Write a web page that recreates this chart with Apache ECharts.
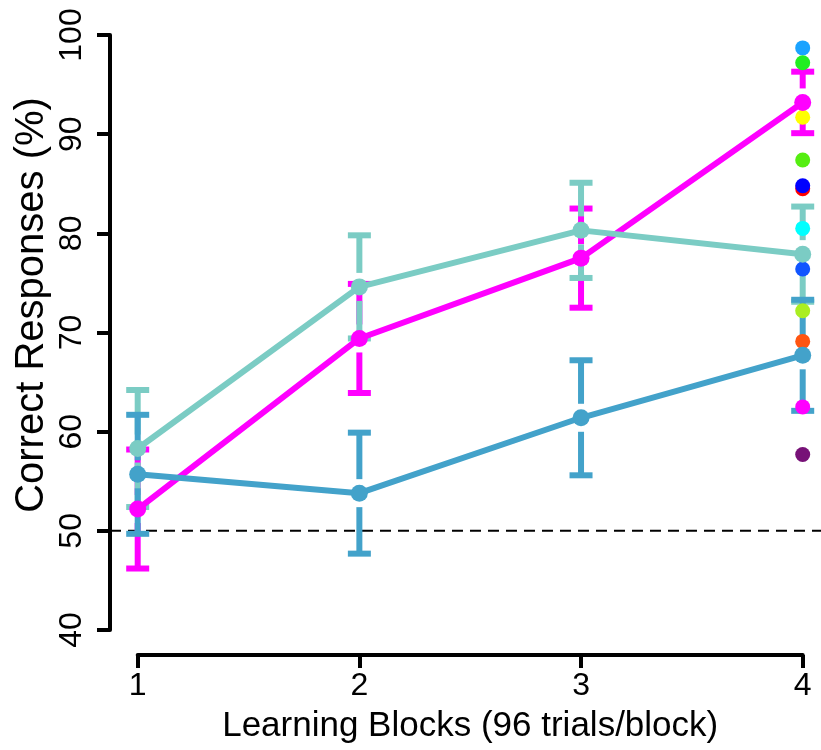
<!DOCTYPE html>
<html>
<head>
<meta charset="utf-8">
<script src="https://cdn.jsdelivr.net/npm/echarts@6/dist/echarts.min.js"></script>
<style>
  html, body { margin: 0; padding: 0; background: #fff; }
  #chart { width: 821px; height: 750px; }
</style>
</head>
<body>
<div id="chart"></div>
<script>
const blocks = [1, 2, 3, 4];
const yTicks = [40, 50, 60, 70, 80, 90, 100];

// group means and standard errors
const magentaMean = [52.2, 69.4, 77.5, 93.2];
const magentaSE = [6.0, 5.5, 5.0, 3.1];
const tealMean = [58.3, 74.6, 80.3, 77.9];
const tealSE = [5.9, 5.2, 4.8, 4.8];
const blueMean = [55.7, 53.8, 61.4, 67.7];
const blueSE = [6.0, 6.1, 5.8, 5.6];

// single subjects in the last block
const subjectValues = [98.7, 97.2, 91.7, 87.4, 84.5, 84.8, 80.5, 76.4, 72.2, 69.1, 62.5, 57.7];
const subjectColors = ['#1aa3ff', '#22ee22', '#ffff00', '#55ee11', '#ff0000', '#0000ff',
  '#00ffff', '#1155ff', '#aaee22', '#ff5511', '#ff00ff', '#771177'];

const chanceLevel = 50;

const font = "'Liberation Sans', Arial, sans-serif";
const chart = echarts.init(document.getElementById('chart'));

function errorBars(name, color, means, ses) {
  return {
    name: name,
    type: 'custom',
    clip: false,
    data: blocks.map((b, i) => [b, means[i], ses[i]]),
    renderItem: function (params, api) {
      const x = api.value(0), m = api.value(1), s = api.value(2);
      const c = api.coord([x, m]);
      const hi = api.coord([x, m + s]);
      const lo = api.coord([x, m - s]);
      const gap = 14, cap = 11.5;
      const st = { stroke: color, lineWidth: 6 };
      const kids = [];
      if (hi[1] < c[1] - gap) {
        kids.push({ type: 'line', shape: { x1: c[0], y1: c[1] - gap, x2: hi[0], y2: hi[1] }, style: st });
      }
      if (lo[1] > c[1] + gap) {
        kids.push({ type: 'line', shape: { x1: c[0], y1: c[1] + gap, x2: lo[0], y2: lo[1] }, style: st });
      }
      kids.push({ type: 'line', shape: { x1: hi[0] - cap, y1: hi[1], x2: hi[0] + cap, y2: hi[1] }, style: st });
      kids.push({ type: 'line', shape: { x1: lo[0] - cap, y1: lo[1], x2: lo[0] + cap, y2: lo[1] }, style: st });
      return { type: 'group', children: kids };
    }
  };
}

function meanLine(name, color, means) {
  return {
    name: name,
    type: 'line',
    data: blocks.map((b, i) => [b, means[i]]),
    symbol: 'circle',
    symbolSize: 17,
    clip: false,
    itemStyle: { color: color },
    lineStyle: { color: color, width: 6 }
  };
}

let option = {
  animation: false,
  backgroundColor: '#fff',
  grid: { left: 137.7, top: 35, width: 665, height: 595 },
  xAxis: {
    type: 'value',
    min: 1,
    max: 4,
    interval: 1,
    offset: 25,
    name: 'Learning Blocks (96 trials/block)',
    nameLocation: 'middle',
    nameGap: 54,
    nameTextStyle: { fontFamily: font, fontSize: 35, color: '#000' },
    axisLine: { lineStyle: { color: '#000', width: 4 } },
    axisTick: { length: 13, lineStyle: { color: '#000', width: 4 } },
    axisLabel: { fontFamily: font, fontSize: 32, color: '#000', margin: 15 },
    splitLine: { show: false }
  },
  yAxis: {
    type: 'value',
    min: 40,
    max: 100,
    interval: 10,
    offset: 27.7,
    axisLine: { show: true, lineStyle: { color: '#000', width: 4 } },
    axisTick: { show: true, length: 13, lineStyle: { color: '#000', width: 4 } },
    axisLabel: {
      fontFamily: font, fontSize: 32, color: '#000', rotate: 90, margin: 22,
      formatter: v => yTicks.includes(v) ? String(v) : ''
    },
    splitLine: { show: false }
  },
  graphic: [{
    type: 'text',
    x: 32,
    y: 305,
    rotation: Math.PI / 2,
    style: {
      text: 'Correct Responses (%)',
      fontFamily: font,
      fontSize: 40,
      fill: '#000',
      textAlign: 'center',
      textVerticalAlign: 'middle'
    }
  }],
  series: [
    {
      name: 'chance',
      type: 'custom',
      clip: false,
      data: [[chanceLevel]],
      renderItem: function (params, api) {
        const a = api.coord([0.875, api.value(0)]);
        const b = api.coord([4.125, api.value(0)]);
        return {
          type: 'line',
          shape: { x1: a[0], y1: a[1], x2: b[0], y2: b[1] },
          style: { stroke: '#000', lineWidth: 2, lineDash: [11, 7] }
        };
      }
    },
    errorBars('magentaErr', '#ff00ff', magentaMean, magentaSE),
    meanLine('magenta', '#ff00ff', magentaMean),
    errorBars('tealErr', '#7bccc4', tealMean, tealSE),
    meanLine('teal', '#7bccc4', tealMean),
    errorBars('blueErr', '#43a2ca', blueMean, blueSE),
    meanLine('blue', '#43a2ca', blueMean),
    {
      name: 'subjects',
      type: 'scatter',
      clip: false,
      symbolSize: 15,
      data: subjectValues.map((v, i) => ({
        value: [4, v],
        itemStyle: { color: subjectColors[i], opacity: 1 }
      }))
    }
  ]
};

chart.setOption(option);
</script>
</body>
</html>
